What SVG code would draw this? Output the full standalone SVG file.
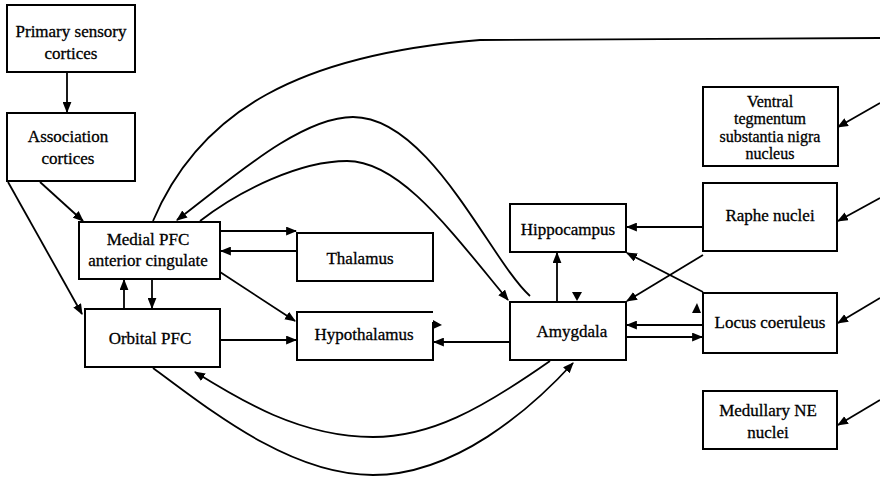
<svg xmlns="http://www.w3.org/2000/svg" width="880" height="479" viewBox="0 0 880 479">
<defs>
<marker id="ah" viewBox="0 0 10 8" refX="9" refY="4" markerWidth="11" markerHeight="9" markerUnits="userSpaceOnUse" orient="auto"><path d="M0,0 L10,4 L0,8 Z" fill="#000"/></marker>
<style>
.box{fill:#fff;stroke:#000;stroke-width:2}
.t{font-family:"Liberation Serif","Times New Roman",serif;font-size:17px;text-anchor:middle;fill:#000;stroke:#000;stroke-width:0.3}
.s{font-size:16px}
.c{fill:none;stroke:#000;stroke-width:1.8}
.a{marker-end:url(#ah)}
</style>
</defs>
<rect width="880" height="479" fill="#fff"/>
<g id="connectors">
<path class="c a" d="M67,72 V112"/>
<path class="c a" d="M40,182 L83,221"/>
<path class="c a" d="M8,182 L82,314"/>
<path class="c a" d="M124,309 V280"/>
<path class="c a" d="M152,279 V308"/>
<path class="c a" d="M220,231 H296"/>
<path class="c a" d="M297,251 H221"/>
<path class="c a" d="M220,272 L295,321"/>
<path class="c a" d="M220,340 H296"/>
<path class="c a" d="M510,342 H434"/>
<path class="c a" d="M557,302 V253"/>
<path class="c a" d="M703,227 H627"/>
<path class="c a" d="M703,255 L627,301"/>
<path class="c a" d="M703,292 L627,253"/>
<path class="c a" d="M703,325 H627"/>
<path class="c a" d="M626,337 H702"/>
<path class="c" d="M153,221 C200,110 300,55 480,40 L880,38"/>
<path class="c a" d="M530,296 C490,260 430,117 353,117 C300,117 230,180 177,220"/>
<path class="c a" d="M200,221 C240,190 300,161 347,161 C400,161 450,230 508,300"/>
<path class="c a" d="M550,361 C480,410 430,437 373,437 C300,437 240,400 195,372"/>
<path class="c a" d="M153,368 C210,410 290,475 373,475 C455,475 530,410 573,363"/>
<path class="c a" d="M880,103 L838,127"/>
<path class="c a" d="M880,198 L838,221"/>
<path class="c a" d="M880,298 L838,323"/>
<path class="c a" d="M880,400 L838,425"/>
<path d="M572,292 L582,292 L577,301 Z" fill="#000"/>
<path d="M692,313 L701,313 L697,303 Z" fill="#000"/>
<path d="M433,320 L433,329 L442,325 Z" fill="#000"/>
</g>
<g id="primary"><rect class="box" x="7" y="5" width="128" height="67"/><text class="t" x="71" y="37">Primary sensory</text><text class="t" x="71" y="59">cortices</text></g>
<g id="association"><rect class="box" x="7" y="113" width="128" height="68"/><text class="t" x="68" y="142">Association</text><text class="t" x="68" y="164">cortices</text></g>
<g id="medialPFC"><rect class="box" x="79" y="222" width="141" height="57"/><text class="t" x="148" y="245">Medial PFC</text><text class="t" x="148" y="266">anterior cingulate</text></g>
<g id="orbitalPFC"><rect class="box" x="85" y="309" width="135" height="58"/><text class="t" x="150" y="344">Orbital PFC</text></g>
<g id="thalamus"><rect class="box" x="297" y="233" width="136" height="48"/><text class="t" x="360" y="264">Thalamus</text></g>
<g id="hypothalamus"><path class="box" d="M433,322 V360 H297 V312 H433"/><text class="t" x="364" y="340">Hypothalamus</text></g>
<g id="amygdala"><rect class="box" x="510" y="302" width="116" height="58"/><text class="t" x="572" y="337">Amygdala</text></g>
<g id="hippocampus"><rect class="box" x="510" y="204" width="116" height="48"/><text class="t" x="568" y="235">Hippocampus</text></g>
<g id="raphe"><rect class="box" x="703" y="183" width="134" height="68"/><text class="t" x="770" y="221">Raphe nuclei</text></g>
<g id="locus"><rect class="box" x="703" y="293" width="134" height="60"/><text class="t" x="770" y="328">Locus coeruleus</text></g>
<g id="vta"><rect class="box" x="703" y="87" width="135" height="79"/><text class="t s" x="770" y="107">Ventral</text><text class="t s" x="770" y="124">tegmentum</text><text class="t s" x="770" y="142">substantia nigra</text><text class="t s" x="770" y="159">nucleus</text></g>
<g id="medullary"><rect class="box" x="703" y="391" width="134" height="58"/><text class="t" x="768" y="416">Medullary NE</text><text class="t" x="768" y="438">nuclei</text></g>
</svg>
